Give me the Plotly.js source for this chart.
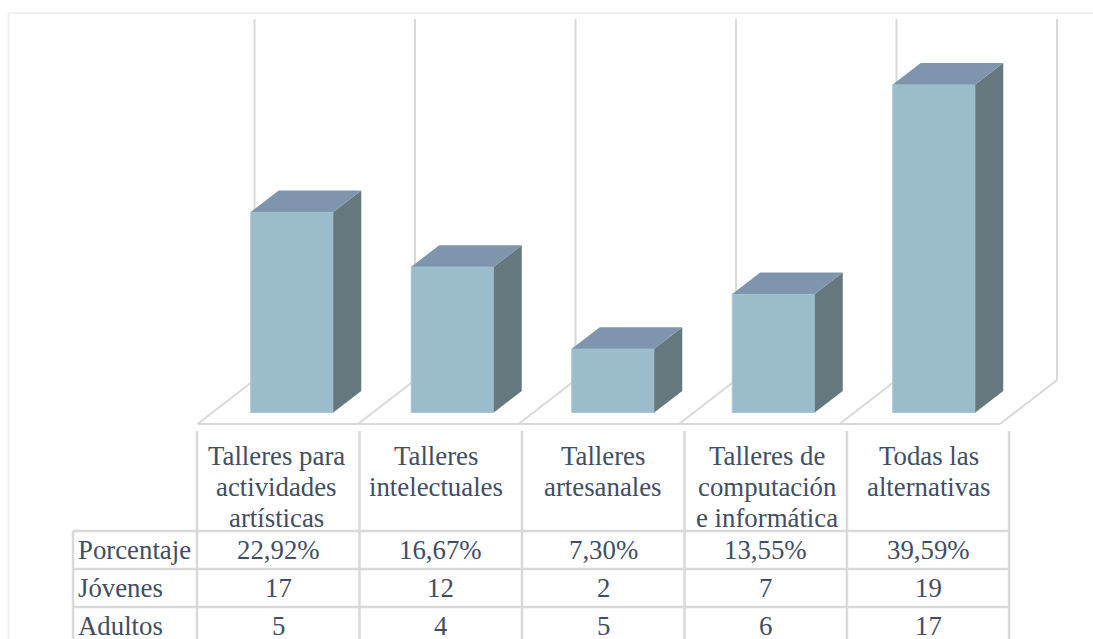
<!DOCTYPE html>
<html>
<head>
<meta charset="utf-8">
<script src="https://cdn.plot.ly/plotly-3.0.1.min.js"></script>
<style>html,body{margin:0;padding:0;background:#fff}#chart{width:1093px;height:639px}</style>
</head>
<body>
<div id="chart"></div>
<script>
// ---- data ----
const categoryLines = [
  ["Talleres para", "actividades", "artísticas"],
  ["Talleres", "intelectuales"],
  ["Talleres", "artesanales"],
  ["Talleres de", "computación", "e informática"],
  ["Todas las", "alternativas"]
];
const porcentaje = ["22,92%", "16,67%", "7,30%", "13,55%", "39,59%"];
const jovenes = [17, 12, 2, 7, 19];
const adultos = [5, 4, 5, 6, 17];
const rowLabels = ["Porcentaje", "Jóvenes", "Adultos"];
// bar heights follow Jóvenes + Adultos
const barValues = [22, 16, 7, 13, 36];

// ---- geometry / style ----
const W = 1093, H = 639;
const xOrigin = 292, xStep = 160.5;      // px of category 0, px per category
const yOrigin = 412.5, yUnit = 9.11;     // px of value 0, px per unit
const barW = 82.5 / xStep;
const depthX = 28 / xStep, depthY = 21.5 / yUnit;
const FRONT = "#9bbdcb", TOP = "#7f95ae", SIDE = "#64787e", GRID = "#d9d9d9", TEXT = "#414e62";
const FONT = {family: "Liberation Serif, Times New Roman, serif", size: 26.8, color: TEXT};
const px = v => v / W, py = v => 1 - v / H;
const idx = barValues.map((_, i) => i);

const side = idx.map(i => {
  const r = i + barW / 2, v = barValues[i];
  return {type: "scatter", mode: "lines", fill: "toself", fillcolor: SIDE, line: {width: 0, color: SIDE},
    x: [r, r + depthX, r + depthX, r, r], y: [0, depthY, v + depthY, v, 0], hoverinfo: "skip"};
});
const top3d = idx.map(i => {
  const l = i - barW / 2, r = i + barW / 2, v = barValues[i];
  return {type: "scatter", mode: "lines", fill: "toself", fillcolor: TOP, line: {width: 0, color: TOP},
    x: [l, r, r + depthX, l + depthX, l], y: [v, v, v + depthY, v + depthY, v], hoverinfo: "skip"};
});
const front = {type: "bar", x: idx, y: barValues, width: barW,
  marker: {color: FRONT, line: {color: "#a9c6d4", width: 1}}, hoverinfo: "skip"};

const line = (x0, y0, x1, y1, color, width) => ({type: "line", xref: "paper", yref: "paper", layer: "below",
  x0: px(x0), y0: py(y0), x1: px(x1), y1: py(y1), line: {color: color || GRID, width: width || 2}});

const shapes = [line(8.5, 13, 1093, 13, "#efefef", 2), line(8.5, 13, 8.5, 639, "#efefef", 2)];
// walls and floor
for (let k = 0; k <= 5; k++) {
  const wx = 254.5 + 160.5 * k, fx = 197.5 + 160.5 * k;
  shapes.push(line(wx, 19, wx, 380));
  shapes.push(line(fx, 424, wx, 380));
}
shapes.push(line(197.5, 424, 1000, 424));
// table grid
const colX = [197, 359.5, 522, 684.5, 847, 1009];
const rowY = [531, 569, 607];
colX.forEach(x => shapes.push(line(x, 431, x, 639, GRID, 2.5)));
shapes.push(line(73, 531, 73, 639, GRID, 2.5));
rowY.forEach(y => shapes.push(line(73, y, 1009, y, GRID, 2.5)));

const ann = [];
const text = (t, x, y, anchor, h) => ann.push(Object.assign({text: t, xref: "paper", yref: "paper", x: px(x), y: py(y),
  xanchor: anchor || "center", yanchor: "middle", showarrow: false, font: FONT, borderpad: 0, borderwidth: 0},
  h ? {height: h} : {}));
const headerShift = [-1.5, -5, 0, 1, 1];
categoryLines.forEach((lines, i) => {
  const cx = (colX[i] + colX[i + 1]) / 2 + headerShift[i];
  lines.forEach((t, j) => text(t, cx, 456 + 31 * j));
});
[porcentaje, jovenes, adultos].forEach((row, r) => {
  const h = r === 2 ? 26 : 0;
  text(rowLabels[r], 78, 550 + 38 * r, "left", h);
  row.forEach((v, i) => text(String(v), (colX[i] + colX[i + 1]) / 2, 550 + 38 * r, "center", h));
});

const layout = {
  width: W, height: H, margin: {l: 0, r: 0, t: 0, b: 0, pad: 0},
  paper_bgcolor: "#fff", plot_bgcolor: "rgba(0,0,0,0)", showlegend: false, hovermode: false,
  xaxis: {visible: false, fixedrange: true, range: [-xOrigin / xStep, (W - xOrigin) / xStep]},
  yaxis: {visible: false, fixedrange: true, range: [-(H - yOrigin) / yUnit, yOrigin / yUnit]},
  shapes: shapes, annotations: ann
};
Plotly.newPlot("chart", [...side, ...top3d, front], layout, {displayModeBar: false, staticPlot: true});
</script>
</body>
</html>
